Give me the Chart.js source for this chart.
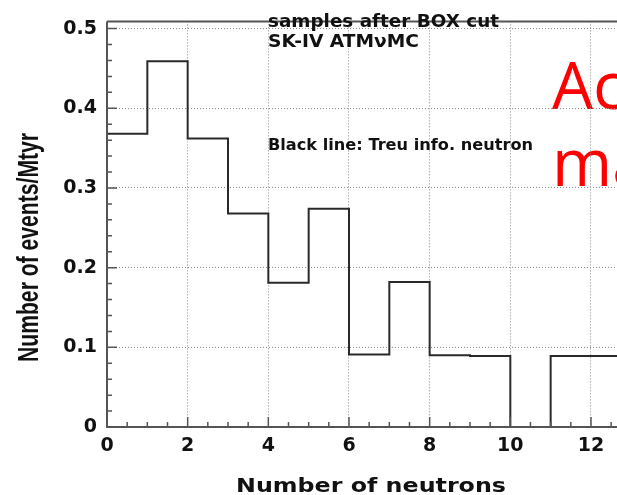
<!DOCTYPE html>
<html>
<head>
<meta charset="utf-8">
<script src="https://cdn.jsdelivr.net/npm/chart.js@4/dist/chart.umd.min.js"></script>
<style>
  html, body { margin: 0; padding: 0; background: #fff; }
  #wrap { width: 617px; height: 495px; position: relative; overflow: hidden; }
</style>
</head>
<body>
<div id="wrap"><canvas id="c" width="617" height="495"></canvas></div>
<script>
// Neutron multiplicity histogram, one bin per neutron count
const neutronBins = [0, 1, 2, 3, 4, 5, 6, 7, 8, 9, 10, 11, 12];
const eventsPerMtyr = [0.368, 0.459, 0.362, 0.268, 0.181, 0.274, 0.091, 0.182, 0.090, 0.089, 0, 0.089, 0.089];
const binWidth = 1;

const xTickValues = [0, 2, 4, 6, 8, 10, 12];
const xTickLabels = ['0', '2', '4', '6', '8', '10', '12'];
const yTickValues = [0, 0.1, 0.2, 0.3, 0.4, 0.5];
const yTickLabels = ['0', '0.1', '0.2', '0.3', '0.4', '0.5'];

const xTitle = 'Number of neutrons';
const yTitle = 'Number of events/Mtyr';
const infoLines = ['samples after BOX cut', 'SK-IV ATM\u03BDMC'];
const legendNote = 'Black line: Treu info. neutron';
const overlayLines = ['Ac', 'ma'];

// step outline: each bin's value is held across its width
const stepPoints = neutronBins.map((b, i) => ({ x: b, y: eventsPerMtyr[i] }));
stepPoints.push({ x: neutronBins[neutronBins.length - 1] + binWidth, y: eventsPerMtyr[eventsPerMtyr.length - 1] });

const FRAME = '#555';
const BOLD_WIDE = 'bold {s}px "DejaVu Sans"';
const BOLD_NARROW = 'bold {s}px "Liberation Sans"';

function font(tpl, s) { return tpl.replace('{s}', s); }

// draws text horizontally stretched so that it spans a given width
function fittedText(ctx, text, x, y, fontStr, width, align) {
  ctx.save();
  ctx.font = fontStr;
  const w = ctx.measureText(text).width;
  const sx = width / w;
  ctx.translate(x, y);
  ctx.scale(sx, 1);
  ctx.textAlign = align || 'left';
  ctx.textBaseline = 'alphabetic';
  ctx.fillText(text, 0, 0);
  ctx.restore();
}

const rootStyle = {
  id: 'rootStyle',
  beforeDraw(chart) {
    const { ctx } = chart;
    ctx.save();
    ctx.fillStyle = '#fff';
    ctx.fillRect(0, 0, chart.width, chart.height);
    // red overlay words, sitting under the grid
    ctx.fillStyle = '#ff0000';
    ctx.font = '65px "Open Sans"';
    ctx.textBaseline = 'alphabetic';
    ctx.fillText(overlayLines[0], 552, 109);
    ctx.fillText(overlayLines[1], 552, 186);
    ctx.restore();
  },
  afterDraw(chart) {
    const { ctx, chartArea: a } = chart;
    const xs = chart.scales.x, ys = chart.scales.y;
    ctx.save();
    ctx.strokeStyle = FRAME;
    ctx.lineWidth = 2;
    // frame: left, bottom and top edges
    ctx.beginPath();
    ctx.moveTo(a.left, a.top);
    ctx.lineTo(a.right + 2, a.top);
    ctx.moveTo(a.left, a.top);
    ctx.lineTo(a.left, a.bottom);
    ctx.lineTo(a.right + 2, a.bottom);
    ctx.stroke();

    // tick marks pointing into the plot
    ctx.lineWidth = 1.5;
    ctx.beginPath();
    for (let i = 0; i <= 26; i++) {
      const v = i * 0.5;
      const px = xs.getPixelForValue(v);
      if (px > a.right) break;
      const len = (i % 4 === 0) ? 10 : 5;
      ctx.moveTo(px, a.bottom);
      ctx.lineTo(px, a.bottom - len);
    }
    for (let i = 0; i <= 25; i++) {
      const v = i * 0.02;
      const py = ys.getPixelForValue(v);
      const len = (i % 5 === 0) ? 10 : 5;
      ctx.moveTo(a.left, py);
      ctx.lineTo(a.left + len, py);
    }
    ctx.stroke();

    // text inside the frame
    ctx.fillStyle = '#111';
    fittedText(ctx, infoLines[0], 268, 26.5, font(BOLD_WIDE, 17), 231);
    fittedText(ctx, infoLines[1], 268, 46.5, font(BOLD_WIDE, 17), 151);
    fittedText(ctx, legendNote, 268, 150, font(BOLD_WIDE, 16), 265);

    // axis titles
    fittedText(ctx, xTitle, 236, 492, font(BOLD_WIDE, 20), 270);
    ctx.save();
    ctx.font = font(BOLD_NARROW, 20);
    const yw = ctx.measureText(yTitle).width;
    ctx.translate(38, 247.5);
    ctx.rotate(-Math.PI / 2);
    ctx.scale(229 / yw, 1.5);
    ctx.textAlign = 'center';
    ctx.textBaseline = 'alphabetic';
    ctx.fillText(yTitle, 0, 0);
    ctx.restore();

    ctx.restore();
  }
};

const gridStyle = {
  color: (c) => (c.tick && c.tick.value === 0) ? 'rgba(0,0,0,0)' : '#8a8a8a',
  lineWidth: 1,
  drawTicks: false
};

new Chart(document.getElementById('c'), {
  type: 'line',
  data: {
    datasets: [{
      data: stepPoints,
      stepped: 'before',
      borderColor: '#2a2a2a',
      borderWidth: 2,
      pointRadius: 0,
      fill: false,
      tension: 0
    }]
  },
  options: {
    responsive: false,
    animation: false,
    devicePixelRatio: 1,
    layout: { padding: { top: 13, right: 0, left: 0, bottom: 0 } },
    plugins: { legend: { display: false }, tooltip: { enabled: false } },
    scales: {
      x: {
        type: 'linear',
        min: 0,
        max: 12.645,
        grid: gridStyle,
        border: { display: false, dash: [1, 2] },
        afterBuildTicks: (s) => { s.ticks = xTickValues.map(v => ({ value: v })); },
        afterFit: (s) => { s.height = 68; },
        ticks: {
          padding: 8,
          color: '#111',
          font: { family: 'DejaVu Sans', weight: 'bold', size: 19 },
          maxRotation: 0,
          autoSkip: false,
          callback: (v) => xTickLabels[xTickValues.indexOf(v)]
        }
      },
      y: {
        type: 'linear',
        min: 0,
        max: 0.509,
        grid: gridStyle,
        border: { display: false, dash: [1, 2] },
        afterBuildTicks: (s) => { s.ticks = yTickValues.map(v => ({ value: v })); },
        afterFit: (s) => { s.width = 107; },
        ticks: {
          padding: 10,
          color: '#111',
          font: { family: 'DejaVu Sans', weight: 'bold', size: 19 },
          autoSkip: false,
          callback: (v) => {
            const i = yTickValues.findIndex(t => Math.abs(t - v) < 1e-9);
            return i >= 0 ? yTickLabels[i] : '';
          }
        }
      }
    }
  },
  plugins: [rootStyle]
});
</script>
</body>
</html>
